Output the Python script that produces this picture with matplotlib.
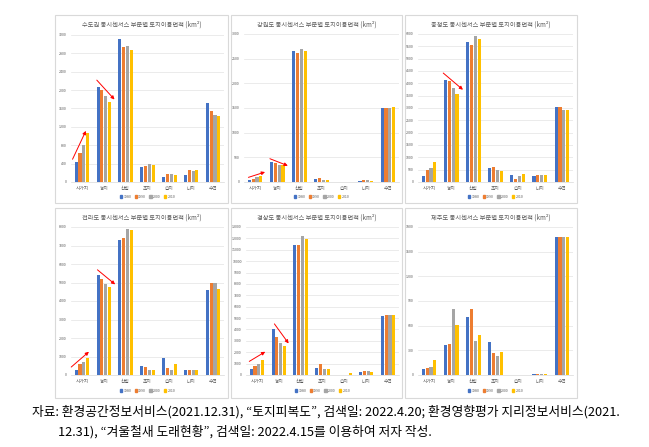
import matplotlib
matplotlib.use('Agg')
import matplotlib.pyplot as plt
from matplotlib.patches import Rectangle
import numpy as np

plt.rcParams['font.family'] = ['Noto Sans CJK KR', 'DejaVu Sans']

categories = ['시가지', '농지', '산림', '초지', '습지', '나지', '수역']
years = ['1980', '1990', '2000', '2010']
colors = ['#4472C4', '#ED7D31', '#A5A5A5', '#FFC000']

# values per year (rows: 1980, 1990, 2000, 2010), columns follow categories
sudogwon = [[436, 2065, 3113, 327, 109, 160, 1716],
            [633, 2000, 2938, 342, 182, 255, 1542],
            [800, 1869, 2953, 385, 167, 247, 1469],
            [1069, 1745, 2873, 364, 153, 262, 1433]]
gangwon = [[34, 398, 2655, 67, 1, 27, 1496],
           [67, 378, 2621, 88, 1, 34, 1496],
           [94, 337, 2688, 40, 1, 34, 1496],
           [115, 344, 2655, 47, 1, 27, 1516]]
chungcheong = [[244, 4119, 5678, 583, 271, 244, 3022],
               [488, 4079, 5556, 610, 122, 298, 3022],
               [569, 3821, 5921, 474, 230, 298, 2900],
               [813, 3564, 5813, 461, 339, 271, 2927]]
jeolla = [[287, 5381, 7318, 502, 933, 287, 4592],
          [592, 5184, 7390, 448, 395, 287, 4987],
          [700, 4933, 7910, 287, 251, 287, 4951],
          [933, 4771, 7857, 287, 574, 287, 4628]]
gyeongsang = [[554, 4082, 11399, 612, 29, 233, 5190],
              [787, 3324, 11399, 933, 29, 321, 5306],
              [991, 2828, 12187, 496, 29, 321, 5248],
              [1341, 2566, 11953, 496, 175, 292, 5306]]
jeju = [[72, 366, 705, 407, 0, 12, 1683],
        [89, 383, 801, 270, 0, 16, 1675],
        [101, 801, 419, 226, 0, 12, 1675],
        [185, 604, 487, 274, 0, 16, 1683]]

titles = ['수도권 동시센서스 부문별 토지이용면적 (km²)',
          '강원도 동시센서스 부문별 토지이용면적 (km²)',
          '충청도 동시센서스 부문별 토지이용면적 (km²)',
          '전라도 동시센서스 부문별 토지이용면적 (km²)',
          '경상도 동시센서스 부문별 토지이용면적 (km²)',
          '제주도 동시센서스 부문별 토지이용면적 (km²)']
datasets = [sudogwon, gangwon, chungcheong, jeolla, gyeongsang, jeju]
ymaxes = [3200, 3000, 6000, 8000, 13000, 1800]
ysteps = [400, 500, 500, 1000, 1000, 300]

# red trend arrows: (x_start, y_start, x_end, y_end) in data units
arrows = [
    [(-0.43, 495, 0.18, 1113), (0.68, 2218, 1.49, 1796)],
    [(-0.3, 94, 0.45, 202), (0.67, 472, 1.48, 330)],
    [(0.64, 4417, 1.53, 3740)],
    [(-0.49, 430, 0.32, 1256), (0.71, 5686, 1.52, 4897)],
    [(-0.35, 1195, 0.38, 2041), (0.8, 4490, 1.45, 2770)],
    [],
]

W, H = 649, 447
fig = plt.figure(figsize=(W / 100, H / 100), dpi=100)
fig.patch.set_facecolor('white')


def frect(l, t, r, b):
    return [l / W, 1 - b / H, (r - l) / W, (b - t) / H]


plot_boxes = [(71, 35, 224, 182), (244, 34, 399, 182), (418, 34, 573, 182),
              (71, 227, 224, 375), (246, 227, 399, 375), (418, 227, 573, 375)]
panel_boxes = [(55, 15, 228, 203), (231, 15, 402, 203), (405, 15, 577, 203),
               (55, 208, 228, 398), (231, 208, 402, 398), (405, 208, 577, 398)]
title_y = [25, 25, 25, 218, 218, 218]
legend_y = [197, 197, 197, 391, 391, 391]

x = np.arange(len(categories))
bw = 0.14
step = 0.175

for k in range(6):
    l, t, r, b = panel_boxes[k]
    fig.patches.append(Rectangle((l / W, 1 - b / H), (r - l) / W, (b - t) / H,
                                 transform=fig.transFigure, facecolor='white',
                                 edgecolor='#D9D9D9', lw=0.8, zorder=-5))
    ax = fig.add_axes(frect(*plot_boxes[k]))
    ax.set_facecolor('none')
    data = datasets[k]
    for i, yr in enumerate(years):
        ax.bar(x + (i - 1.5) * step, data[i], width=bw, color=colors[i],
               label=yr, zorder=3)
    ax.set_xlim(-0.5, len(categories) - 0.5)
    ax.set_ylim(0, ymaxes[k])
    ax.set_yticks(np.arange(0, ymaxes[k] + 1, ysteps[k]))
    ax.set_xticks(x)
    ax.set_xticklabels(categories)
    ax.tick_params(axis='y', labelsize=2.6, colors='#595959', length=0, pad=3)
    ax.tick_params(axis='x', labelsize=3.4, colors='#595959', length=0, pad=3)
    ax.grid(axis='y', color='#E3E3E3', lw=0.5, zorder=0)
    for s in ['top', 'right', 'left']:
        ax.spines[s].set_visible(False)
    ax.spines['bottom'].set_color('#D9D9D9')
    ax.spines['bottom'].set_linewidth(0.5)
    for (x1, y1, x2, y2) in arrows[k]:
        ax.annotate('', xy=(x2, y2), xytext=(x1, y1),
                    arrowprops=dict(arrowstyle='-|>', color='#FF0000', lw=0.7,
                                    mutation_scale=5, shrinkA=0, shrinkB=0),
                    annotation_clip=False, zorder=5)
    cx = (l + r) / 2
    fig.text(cx / W, 1 - title_y[k] / H, titles[k], ha='center', va='center',
             fontsize=4.5, color='#595959')
    pl, pt, pr, pb = plot_boxes[k]
    handles = [Rectangle((0, 0), 1, 1, color=c) for c in colors]
    fig.legend(handles, years, loc='center',
               bbox_to_anchor=(((pl + pr) / 2) / W, 1 - legend_y[k] / H),
               ncol=4, fontsize=2.6, frameon=False, handlelength=0.7,
               handleheight=0.7, columnspacing=0.9, handletextpad=0.3,
               labelcolor='#595959')

fig.text(32 / W, 1 - 412 / H,
         '자료: 환경공간정보서비스(2021.12.31), “토지피복도”, 검색일: 2022.4.20; 환경영향평가 지리정보서비스(2021.',
         ha='left', va='center', fontsize=9.2, color='black')
fig.text(58 / W, 1 - 432 / H,
         '12.31), “겨울철새 도래현황”, 검색일: 2022.4.15를 이용하여 저자 작성.',
         ha='left', va='center', fontsize=9.2, color='black')

fig.savefig('out.png', dpi=100, facecolor='white')
